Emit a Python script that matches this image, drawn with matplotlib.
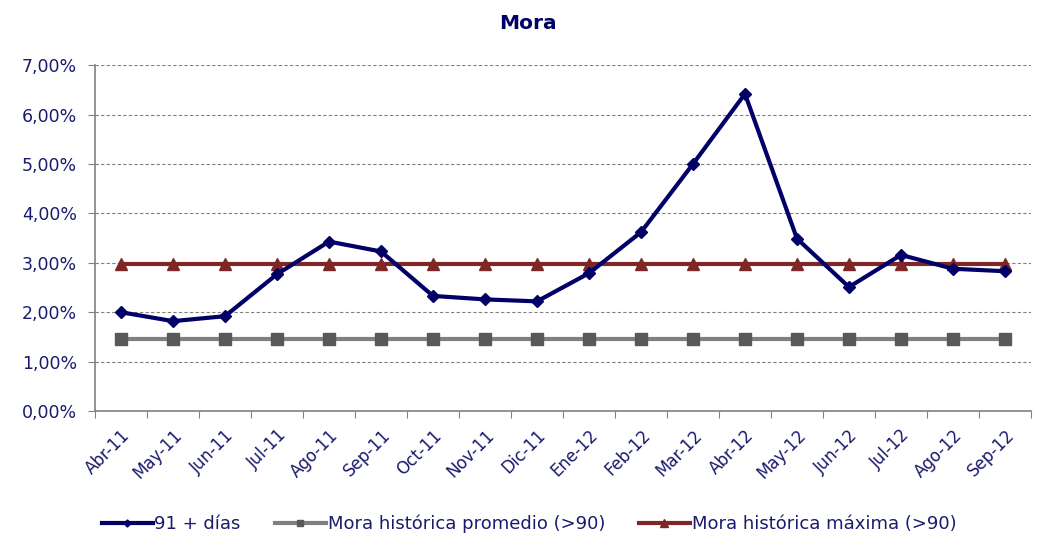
import matplotlib
matplotlib.use("Agg")
import matplotlib.pyplot as plt
import numpy as np
from matplotlib.ticker import FuncFormatter

meses = ["Abr-11", "May-11", "Jun-11", "Jul-11", "Ago-11", "Sep-11", "Oct-11",
         "Nov-11", "Dic-11", "Ene-12", "Feb-12", "Mar-12", "Abr-12", "May-12",
         "Jun-12", "Jul-12", "Ago-12", "Sep-12"]
mora_91 = [2.00, 1.82, 1.92, 2.77, 3.43, 3.23, 2.33, 2.26, 2.22, 2.79, 3.62,
           5.00, 6.42, 3.49, 2.51, 3.16, 2.88, 2.83]
mora_promedio = [1.46] * len(meses)
mora_maxima = [2.97] * len(meses)

navy = "#000066"
text_col = "#1a1a6e"

fig = plt.figure(figsize=(10.52, 5.57), dpi=100)
ax = fig.add_axes([0.0903, 0.262, 0.8897, 0.621])

x = np.arange(len(meses))
ax.plot(x, mora_91, color=navy, lw=3, marker="D", ms=6, label="91 + días", zorder=5)
ax.plot(x, mora_promedio, color="#808080", lw=3, marker="s", ms=8,
        mfc="#595959", mec="#595959", label="Mora histórica promedio (>90)", zorder=3)
ax.plot(x, mora_maxima, color="#7f2727", lw=3, marker="^", ms=9,
        label="Mora histórica máxima (>90)", zorder=4)

ax.set_xlim(-0.5, len(meses) - 0.5)
ax.set_ylim(0, 7)
ax.set_yticks(np.arange(0, 8, 1))
ax.yaxis.set_major_formatter(FuncFormatter(lambda v, p: f"{v:.2f}%".replace(".", ",")))
ax.grid(axis="y", ls=(0, (3, 2)), color="#808080", lw=0.8)
ax.set_axisbelow(True)

ax.set_xticks(np.arange(-0.5, len(meses), 1))
ax.set_xticklabels([])
ax.set_xticks(x, minor=True)
ax.set_xticklabels(meses, minor=True, rotation=45, ha="right", rotation_mode="anchor",
                   color=text_col, fontsize=12)
ax.tick_params(axis="x", which="minor", length=0, pad=11)
ax.tick_params(axis="x", which="major", length=5, color="#808080", direction="out")
ax.tick_params(axis="y", length=5, color="#808080", labelcolor=text_col,
               labelsize=12.5, pad=8)

for s in ["top", "right"]:
    ax.spines[s].set_visible(False)
for s in ["left", "bottom"]:
    ax.spines[s].set_color("#808080")
    ax.spines[s].set_linewidth(1.2)

fig.text(0.502, 0.958, "Mora", ha="center", va="center", fontsize=14.5,
         fontweight="bold", color=navy)

fig.legend(loc="center", bbox_to_anchor=(0.503, 0.059), ncol=3, frameon=False,
           fontsize=13, labelcolor=text_col, handlelength=2.8, columnspacing=1.9,
           handletextpad=0.1, markerscale=0.6)

fig.savefig("out.png", dpi=100)
